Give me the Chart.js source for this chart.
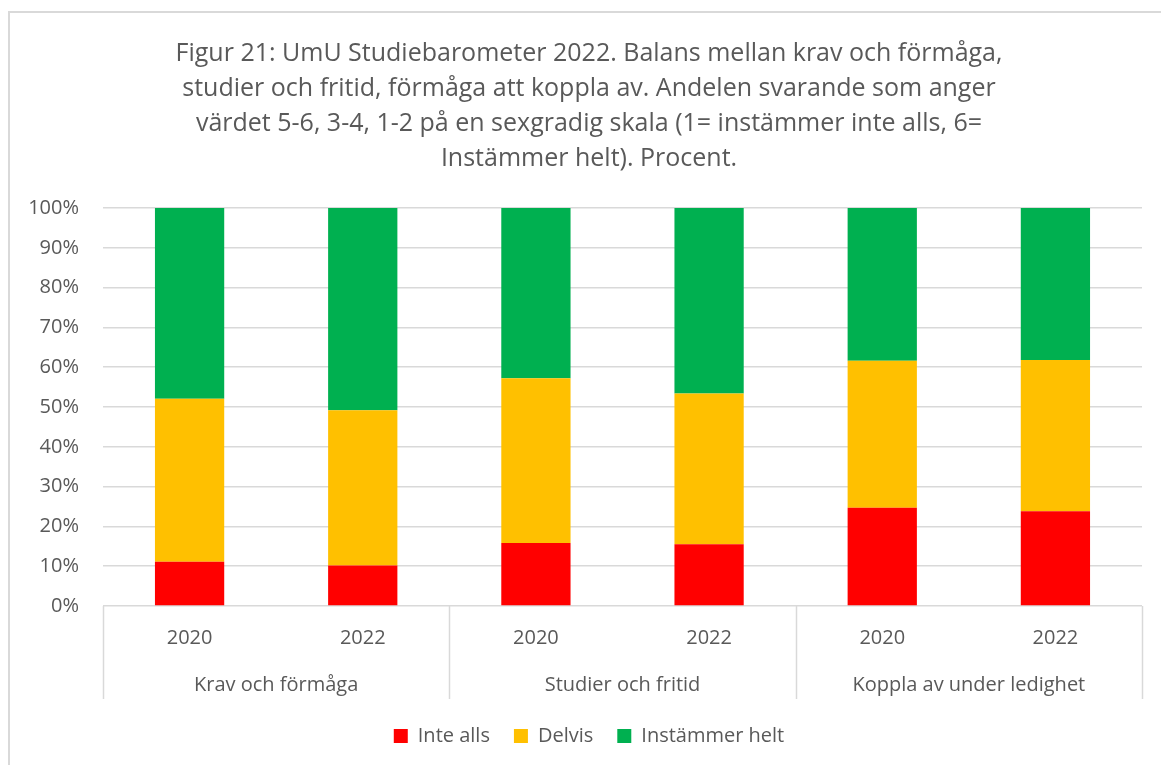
<!DOCTYPE html>
<html>
<head>
<meta charset="utf-8">
<script src="https://cdn.jsdelivr.net/npm/chart.js@4.4.1/dist/chart.umd.min.js"></script>
<style>
  html, body { margin: 0; padding: 0; background: #fff; overflow: hidden; }
  #box {
    position: absolute; left: 8px; top: 11px;
    width: 1174px; height: 760px;
    border: 2px solid #d9d9d9;
  }
  #chart { display: block; }
</style>
</head>
<body>
<div id="box"><canvas id="chart" width="1174" height="760"></canvas></div>
<script>
// data
const categories = ["2020", "2022", "2020", "2022", "2020", "2022"];
const groups = ["Krav och förmåga", "Studier och fritid", "Koppla av under ledighet"];
const inteAlls = [11.1, 10.2, 15.8, 15.5, 24.7, 23.8];
const delvis = [41.0, 39.0, 41.4, 37.9, 36.9, 38.0];
const instammer = [47.9, 50.8, 42.8, 46.6, 38.4, 38.2];
const yTicks = [0, 10, 20, 30, 40, 50, 60, 70, 80, 90, 100];

const titleLines = [
  "Figur 21: UmU Studiebarometer 2022. Balans mellan krav och förmåga,",
  "studier och fritid, förmåga att koppla av. Andelen svarande som anger",
  "värdet 5-6, 3-4, 1-2 på en sexgradig skala (1= instämmer inte alls, 6=",
  "Instämmer helt). Procent."
];

const textColor = "#595959";
const gridColor = "#d9d9d9";
const fontFamily = "'Open Sans', sans-serif";

// second level of the category axis: group names and separators
const groupAxis = {
  id: "groupAxis",
  afterDraw(chart) {
    const { ctx, chartArea, scales } = chart;
    const x = scales.x;
    const per = categories.length / groups.length;
    const edge = (i) => {
      if (i === 0) return chartArea.left;
      if (i === categories.length) return chartArea.right;
      return (x.getPixelForValue(i - 1) + x.getPixelForValue(i)) / 2;
    };
    ctx.save();
    ctx.strokeStyle = gridColor;
    ctx.lineWidth = 1.5;
    for (let g = 0; g <= groups.length; g++) {
      const px = Math.round(edge(g * per)) + 0.5;
      ctx.beginPath();
      ctx.moveTo(px, chartArea.bottom);
      ctx.lineTo(px, chartArea.bottom + 93);
      ctx.stroke();
    }
    ctx.fillStyle = textColor;
    ctx.font = "20px " + fontFamily;
    ctx.textAlign = "center";
    ctx.textBaseline = "middle";
    groups.forEach((name, g) => {
      const cx = (edge(g * per) + edge((g + 1) * per)) / 2;
      ctx.fillText(name, cx, chartArea.bottom + 79);
    });
    ctx.restore();
  }
};

new Chart(document.getElementById("chart"), {
  type: "bar",
  data: {
    labels: categories,
    datasets: [
      { label: "Inte alls", data: inteAlls, backgroundColor: "#ff0000" },
      { label: "Delvis", data: delvis, backgroundColor: "#ffc000" },
      { label: "Instämmer helt", data: instammer, backgroundColor: "#00b050" }
    ]
  },
  options: {
    responsive: false,
    animation: false,
    layout: { padding: { left: 0, right: 16, top: 0, bottom: 17 } },
    datasets: { bar: { barPercentage: 0.4, categoryPercentage: 1 } },
    scales: {
      x: {
        stacked: true,
        grid: { display: false, drawTicks: false },
        border: { display: false },
        ticks: { color: textColor, font: { family: fontFamily, size: 20 }, padding: 20, maxRotation: 0 },
        afterFit(scale) { scale.height = 96; }
      },
      y: {
        stacked: true,
        min: 0,
        max: 100,
        afterBuildTicks(scale) { scale.ticks = yTicks.map(v => ({ value: v })); },
        grid: { color: gridColor, lineWidth: 1.5, drawTicks: false },
        border: { display: false },
        ticks: {
          color: textColor,
          font: { family: fontFamily, size: 20 },
          padding: 24,
          callback: v => v + "%"
        },
        afterFit(scale) { scale.width = 93; }
      },
      // empty right-hand margin so title and legend sit centred like the original
      yRight: {
        position: "right",
        display: true,
        grid: { display: false, drawTicks: false },
        border: { display: false },
        ticks: { display: false },
        afterFit(scale) { scale.width = 26; }
      }
    },
    plugins: {
      title: {
        display: true,
        text: titleLines,
        color: textColor,
        font: { family: fontFamily, size: 25, weight: "normal", lineHeight: 1.4 },
        padding: { top: 23, bottom: 32 }
      },
      legend: {
        position: "bottom",
        labels: {
          color: textColor,
          font: { family: fontFamily, size: 20 },
          boxWidth: 14,
          boxHeight: 14,
          padding: 24
        }
      },
      tooltip: { enabled: false }
    }
  },
  plugins: [groupAxis]
});
</script>
</body>
</html>
